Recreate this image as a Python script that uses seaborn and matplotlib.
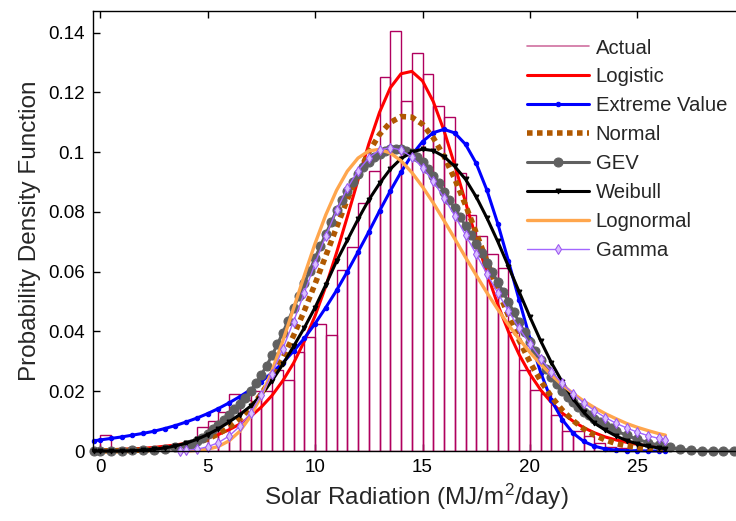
import matplotlib
matplotlib.use("Agg")
import matplotlib.pyplot as plt
from matplotlib.lines import Line2D
import numpy as np
import pandas as pd
import seaborn as sns

##################################################
# Histogram of the measured data (density, 0.5 MJ/m2/day bins starting at 0)
bin_left = np.arange(0, 24.01, 0.5)
actual = [0.0054, 0.0, 0.0, 0.0, 0.0, 0.0, 0.0, 0.0, 0.0020, 0.0079,
          0.0100, 0.0130, 0.0190, 0.0170, 0.0200, 0.0200, 0.0270, 0.0236, 0.0330, 0.0382,
          0.0424, 0.0387, 0.0605, 0.0683, 0.0830, 0.0937, 0.1250, 0.1406, 0.1170, 0.1333,
          0.1260, 0.1155, 0.1118, 0.0929, 0.0790, 0.0720, 0.0660, 0.0611, 0.0398, 0.0271,
          0.0204, 0.0192, 0.0120, 0.0068, 0.0068, 0.0049, 0.0028, 0.0015, 0.0010]

# Fitted pdfs
x_fit = np.concatenate([[-0.3], np.arange(0, 26.01, 0.5), [26.3]])
logistic = [0.0003,
            0.0003, 0.0004, 0.0006, 0.0007, 0.0009, 0.0012, 0.0016, 0.0020, 0.0026, 0.0033,
            0.0043, 0.0055, 0.0071, 0.0090, 0.0115, 0.0147, 0.0186, 0.0235, 0.0294, 0.0367,
            0.0452, 0.0551, 0.0663, 0.0783, 0.0907, 0.1027, 0.1133, 0.1215, 0.1262, 0.1270,
            0.1238, 0.1169, 0.1072, 0.0956, 0.0833, 0.0710, 0.0594, 0.0490, 0.0399, 0.0322,
            0.0257, 0.0204, 0.0162, 0.0127, 0.0100, 0.0078, 0.0061, 0.0047, 0.0037, 0.0029,
            0.0022, 0.0017, 0.0014, 0.0012]
extreme = [0.0034,
           0.0037, 0.0042, 0.0047, 0.0053, 0.0059, 0.0066, 0.0075, 0.0085, 0.0097, 0.0110,
           0.0125, 0.0142, 0.0161, 0.0182, 0.0205, 0.0232, 0.0262, 0.0295, 0.0334, 0.0377,
           0.0426, 0.0480, 0.0537, 0.0600, 0.0666, 0.0733, 0.0803, 0.0870, 0.0933, 0.0990,
           0.1035, 0.1065, 0.1076, 0.1064, 0.1026, 0.0962, 0.0872, 0.0761, 0.0635, 0.0504,
           0.0376, 0.0262, 0.0169, 0.0105, 0.0060, 0.0032, 0.0016, 0.0007, 0.0003, 0.0001,
           0.0001, 0.0, 0.0, 0.0]
normal = [0.0,
          0.0000, 0.0001, 0.0001, 0.0002, 0.0003, 0.0005, 0.0008, 0.0012, 0.0019, 0.0027,
          0.0040, 0.0057, 0.0079, 0.0108, 0.0145, 0.0191, 0.0246, 0.0311, 0.0386, 0.0469,
          0.0559, 0.0653, 0.0748, 0.0841, 0.0926, 0.1000, 0.1059, 0.1099, 0.1119, 0.1117,
          0.1093, 0.1048, 0.0986, 0.0910, 0.0823, 0.0729, 0.0634, 0.0540, 0.0452, 0.0370,
          0.0297, 0.0234, 0.0181, 0.0137, 0.0102, 0.0074, 0.0053, 0.0037, 0.0025, 0.0017,
          0.0011, 0.0007, 0.0005, 0.0004]
weibull = [0.0,
           0.0000, 0.0000, 0.0000, 0.0001, 0.0003, 0.0006, 0.0010, 0.0017, 0.0026, 0.0039,
           0.0055, 0.0074, 0.0097, 0.0122, 0.0150, 0.0188, 0.0235, 0.0290, 0.0350, 0.0412,
           0.0480, 0.0556, 0.0635, 0.0705, 0.0775, 0.0840, 0.0895, 0.0943, 0.0978, 0.1000,
           0.1010, 0.1005, 0.0985, 0.0952, 0.0909, 0.0850, 0.0779, 0.0701, 0.0617, 0.0532,
           0.0448, 0.0368, 0.0295, 0.0231, 0.0175, 0.0129, 0.0093, 0.0070, 0.0050, 0.0035,
           0.0024, 0.0016, 0.0010, 0.0008]

x_pos = np.concatenate([[3.7], np.arange(4, 26.01, 0.5), [26.3]])
lognormal = [0.0000, 0.0000, 0.0002, 0.0006, 0.0015, 0.0034, 0.0066, 0.0116, 0.0184, 0.0269,
             0.0368, 0.0477, 0.0587, 0.0694, 0.0790, 0.0872, 0.0936, 0.0980, 0.1004, 0.1009,
             0.0997, 0.0971, 0.0932, 0.0884, 0.0830, 0.0771, 0.0710, 0.0648, 0.0588, 0.0529,
             0.0474, 0.0422, 0.0374, 0.0330, 0.0290, 0.0254, 0.0221, 0.0193, 0.0167, 0.0145,
             0.0125, 0.0108, 0.0092, 0.0079, 0.0068, 0.0058, 0.0053]
gamma = [0.0001, 0.0002, 0.0006, 0.0014, 0.0028, 0.0050, 0.0083, 0.0128, 0.0187, 0.0259,
         0.0342, 0.0433, 0.0529, 0.0627, 0.0720, 0.0805, 0.0879, 0.0938, 0.0981, 0.1007,
         0.1015, 0.1007, 0.0984, 0.0948, 0.0902, 0.0847, 0.0787, 0.0723, 0.0658, 0.0592,
         0.0529, 0.0468, 0.0410, 0.0357, 0.0309, 0.0265, 0.0226, 0.0192, 0.0161, 0.0135,
         0.0112, 0.0093, 0.0077, 0.0063, 0.0051, 0.0042, 0.0037]

# GEV is drawn with its points closer together in the body of the curve
x_gev = np.concatenate([[-0.3], np.arange(0, 3.51, 0.5), np.arange(4, 24.01, 0.25),
                        np.arange(24.5, 29.51, 0.5)])
gev = [0.0,
       0.0001, 0.0001, 0.0001, 0.0002, 0.0003, 0.0005, 0.0008, 0.0012,
       0.0020, 0.0025, 0.0032, 0.0043, 0.0058, 0.0072, 0.0088, 0.0105,
       0.0122, 0.0140, 0.0158, 0.0178, 0.0200, 0.0226, 0.0255, 0.0286,
       0.0320, 0.0357, 0.0396, 0.0436, 0.0477, 0.0519, 0.0561, 0.0603,
       0.0645, 0.0686, 0.0725, 0.0766, 0.0805, 0.0839, 0.0870, 0.0900,
       0.0927, 0.0949, 0.0968, 0.0983, 0.0995, 0.1004, 0.1010, 0.1012,
       0.1011, 0.1005, 0.0996, 0.0983, 0.0966, 0.0944, 0.0920, 0.0895,
       0.0868, 0.0840, 0.0812, 0.0783, 0.0753, 0.0723, 0.0692, 0.0661,
       0.0630, 0.0598, 0.0565, 0.0532, 0.0498, 0.0464, 0.0430, 0.0397,
       0.0365, 0.0333, 0.0303, 0.0275, 0.0248, 0.0224, 0.0201, 0.0181,
       0.0163, 0.0147, 0.0132, 0.0119, 0.0107, 0.0096, 0.0086, 0.0077,
       0.0068,
       0.0052, 0.0039, 0.0028, 0.0019, 0.0012, 0.0006, 0.0002, 0.0, 0.0, 0.0, 0.0]

##################################################
sns.set_style("ticks")
plt.rcParams["font.family"] = ["Liberation Sans", "DejaVu Sans"]
plt.rcParams["mathtext.fontset"] = "custom"
plt.rcParams["mathtext.rm"] = "Liberation Sans"
plt.rcParams["mathtext.it"] = "Liberation Sans:italic"

fig = plt.figure(figsize=(7.36, 5.21), dpi=100)
ax = fig.add_axes([93 / 736, 70 / 521, 647 / 736, 440 / 521])

hist_df = pd.DataFrame({"centre": bin_left + 0.25, "density": actual})
sns.histplot(data=hist_df, x="centre", weights="density", binwidth=0.5, binrange=(0, 24.5),
             fill=False, color="#B0005E", linewidth=1.0, ax=ax)

series = [
    ("Logistic", x_fit, logistic, dict(color="#FF0000", lw=2.2)),
    ("Extreme Value", x_fit, extreme, dict(color="#0000FF", lw=2.2, marker="o", ms=3.2, mec="#0000FF")),
    ("Normal", x_fit, normal, dict(color="#B05800", lw=4.0, linestyle=(0, (1, 0.8)))),
    ("GEV", x_gev, gev, dict(color="#606060", lw=2.2, marker="o", ms=6.5, mec="#606060")),
    ("Weibull", x_fit, weibull, dict(color="black", lw=2.2, marker="v", ms=3.5, mec="black")),
    ("Lognormal", x_pos, lognormal, dict(color="#FFA64D", lw=2.4)),
    ("Gamma", x_pos, gamma, dict(color="#A366FF", lw=1.0, marker="d", ms=5, mec="#9A55F0", mfc="#D9BFFF")),
]
for name, xx, yy, kw in series:
    sns.lineplot(x=xx, y=yy, ax=ax, label=name, clip_on=False, **kw)

handles, labels = ax.get_legend_handles_labels()
actual_handle = Line2D([], [], color="#D070A0", lw=1.2)
ax.legend([actual_handle] + handles, ["Actual"] + labels, loc="upper left",
          bbox_to_anchor=(527 / 736, 0.926), bbox_transform=fig.transFigure,
          frameon=False, fontsize=14.6, handlelength=3.05, handletextpad=0.33,
          labelspacing=0.49, borderpad=0, borderaxespad=0, numpoints=1)

ax.set_xlim(-0.33, 29.77)
ax.set_ylim(0, 0.1472)
ax.set_xticks([0, 5, 10, 15, 20, 25])
ax.set_xticklabels(["0", "5", "10", "15", "20", "25"])
yt = [0, 0.02, 0.04, 0.06, 0.08, 0.1, 0.12, 0.14]
ax.set_yticks(yt)
ax.set_yticklabels(["0", "0.02", "0.04", "0.06", "0.08", "0.1", "0.12", "0.14"])
ax.tick_params(direction="in", length=5, width=1, top=True, right=False,
               labelsize=13.5, pad=6, colors="black")
for s in ["left", "bottom", "top"]:
    ax.spines[s].set_color("black")
    ax.spines[s].set_linewidth(1.0)
ax.spines["right"].set_visible(False)

ax.set_xlabel(r"Solar Radiation (MJ/m$^{2}$/day)", fontsize=17.5, labelpad=4)
ax.set_ylabel("Probability Density Function", fontsize=17.5, labelpad=5)

fig.savefig("out.png", dpi=100)
